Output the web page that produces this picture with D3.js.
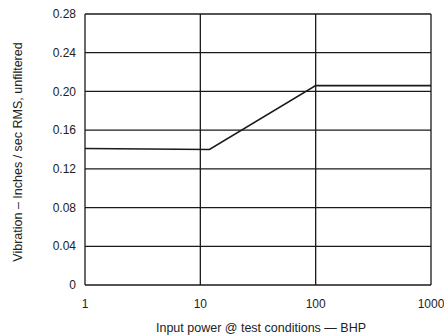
<!DOCTYPE html>
<meta charset="utf-8">
<script src="https://d3js.org/d3.v7.min.js"></script>
<style>
  body { margin: 0; background: #fff; }
  text { font-family: "Liberation Sans", Arial, sans-serif; fill: #222; }
</style>
<div id="chart"></div>
<script>
// data
var powerBHP = [1, 12, 100, 1000];
var vibration = [0.141, 0.140, 0.206, 0.206];
var xTicks = [1, 10, 100, 1000];
var yTicks = [0, 0.04, 0.08, 0.12, 0.16, 0.20, 0.24, 0.28];
var yTickLabels = ["0", "0.04", "0.08", "0.12", "0.16", "0.20", "0.24", "0.28"];

var W = 444, H = 336;
var margin = {top: 14, right: 13, bottom: 51, left: 85},
    width = W - margin.left - margin.right,
    height = H - margin.top - margin.bottom;

var svg = d3.select("#chart").append("svg")
    .attr("width", W).attr("height", H)
  .append("g")
    .attr("transform", "translate(" + margin.left + "," + margin.top + ")");

var x = d3.scaleLog().domain([1, 1000]).range([0, width]);
var y = d3.scaleLinear().domain([0, 0.28]).range([height, 0]);

var ink = "#1a1a1a";

// grid lines
svg.selectAll(".hgrid").data(yTicks).enter().append("line")
    .attr("x1", 0).attr("x2", width)
    .attr("y1", function(d) { return y(d); }).attr("y2", function(d) { return y(d); })
    .attr("stroke", ink).attr("stroke-width", 1.3);
svg.selectAll(".vgrid").data(xTicks).enter().append("line")
    .attr("y1", 0).attr("y2", height)
    .attr("x1", function(d) { return x(d); }).attr("x2", function(d) { return x(d); })
    .attr("stroke", ink).attr("stroke-width", 1.3);

// tick labels
svg.selectAll(".ylab").data(yTicks).enter().append("text")
    .attr("x", -9).attr("y", function(d) { return y(d); })
    .attr("dy", "0.35em")
    .attr("text-anchor", "end")
    .style("font-size", "12px")
    .text(function(d, i) { return yTickLabels[i]; });

svg.selectAll(".xlab").data(xTicks).enter().append("text")
    .attr("x", function(d) { return x(d); })
    .attr("y", height + 19)
    .attr("dy", "0.35em")
    .attr("text-anchor", "middle")
    .style("font-size", "12px")
    .text(function(d) { return d; });

// the curve
var line = d3.line()
    .x(function(d, i) { return x(powerBHP[i]); })
    .y(function(d) { return y(d); });
svg.append("path")
    .datum(vibration)
    .attr("d", line)
    .attr("fill", "none")
    .attr("stroke", ink)
    .attr("stroke-width", 1.6);

// axis titles
svg.append("text")
    .attr("x", 261 - margin.left)
    .attr("y", height + 43)
    .attr("dy", "0.35em")
    .attr("text-anchor", "middle")
    .style("font-size", "12.5px")
    .text("Input power @ test conditions \u2014 BHP");

svg.append("text")
    .attr("transform", "translate(" + (18 - margin.left) + "," + (152 - margin.top) + ") rotate(-90)")
    .attr("text-anchor", "middle")
    .attr("dy", "0.35em")
    .style("font-size", "12.5px")
    .text("Vibration \u2013 Inches / sec RMS, unfiltered");
</script>
